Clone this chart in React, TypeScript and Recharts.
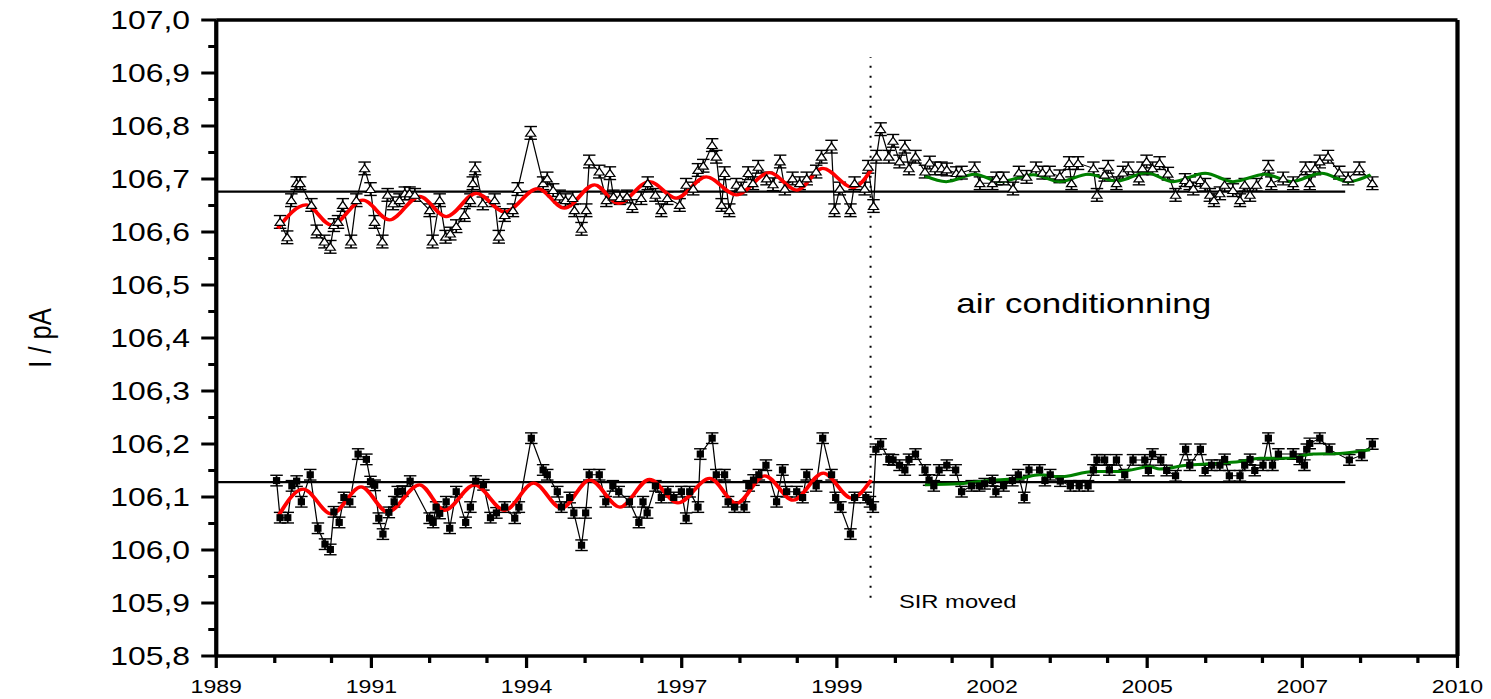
import React from "react";
import {
  LineChart,
  Line,
  XAxis,
  YAxis,
  ErrorBar,
  ReferenceLine,
  ReferenceDot,
} from "recharts";

// the source picture is stretched sideways, so the chart is drawn narrower and scaled
const STRETCH = 1.25;
const CHART_W = 1193;
const CHART_H = 699;
const FONT = "Arial, 'Liberation Sans', Helvetica, sans-serif";

// axis ticks
const xMajorTicks = [1989, 1991.625, 1994.25, 1996.875, 1999.5, 2002.125, 2004.75, 2007.375, 2010];
const xTickLabels = ["1989", "1991", "1994", "1997", "1999", "2002", "2005", "2007", "2010"];
const xMinorTicks = [
  1989.99, 1990.95, 1992.61, 1993.58, 1995.24, 1996.2, 1997.86, 1998.83,
  2000.49, 2001.45, 2003.11, 2004.08, 2005.74, 2006.7, 2008.36, 2009.33,
];
const yMajorTicks = [105.8, 105.9, 106.0, 106.1, 106.2, 106.3, 106.4, 106.5, 106.6, 106.7, 106.8, 106.9, 107.0];
const yTickLabels = ["105,8", "105,9", "106,0", "106,1", "106,2", "106,3", "106,4", "106,5", "106,6", "106,7", "106,8", "106,9", "107,0"];
const yMinorTicks = [105.85, 105.95, 106.05, 106.15, 106.25, 106.35, 106.45, 106.55, 106.65, 106.75, 106.85, 106.95];

// measurements [year, I / pA]
const upperSeries: [number, number][] = [
  [1990.08, 106.619], [1990.2, 106.59], [1990.27, 106.66], [1990.36, 106.692], [1990.42, 106.692],
  [1990.61, 106.651], [1990.7, 106.601], [1990.83, 106.582], [1990.93, 106.572], [1990.99, 106.613],
  [1991.06, 106.619], [1991.14, 106.651], [1991.28, 106.582], [1991.37, 106.66], [1991.51, 106.72],
  [1991.61, 106.681], [1991.68, 106.619], [1991.81, 106.582], [1991.9, 106.67], [1991.99, 106.654],
  [1992.1, 106.66], [1992.19, 106.673], [1992.27, 106.673], [1992.36, 106.67], [1992.61, 106.641],
  [1992.66, 106.582], [1992.78, 106.66], [1992.88, 106.591], [1992.96, 106.597], [1993.06, 106.611],
  [1993.2, 106.632], [1993.3, 106.66], [1993.34, 106.692], [1993.38, 106.72], [1993.51, 106.654],
  [1993.71, 106.66], [1993.78, 106.591], [1993.88, 106.632], [1994.02, 106.641], [1994.1, 106.681],
  [1994.32, 106.787], [1994.53, 106.692], [1994.6, 106.701], [1994.7, 106.679], [1994.81, 106.667],
  [1994.91, 106.66], [1995.03, 106.664], [1995.06, 106.641], [1995.18, 106.606], [1995.26, 106.641],
  [1995.31, 106.733], [1995.48, 106.714], [1995.6, 106.66], [1995.66, 106.711], [1995.72, 106.667],
  [1995.83, 106.664], [1995.95, 106.667], [1996.04, 106.649], [1996.19, 106.664], [1996.3, 106.692],
  [1996.43, 106.67], [1996.53, 106.641], [1996.63, 106.664], [1996.84, 106.651], [1996.95, 106.689],
  [1997.07, 106.682], [1997.15, 106.717], [1997.24, 106.725], [1997.39, 106.764], [1997.46, 106.742],
  [1997.55, 106.651], [1997.6, 106.711], [1997.68, 106.641], [1997.8, 106.689], [1997.88, 106.682],
  [1998.0, 106.711], [1998.08, 106.692], [1998.17, 106.723], [1998.31, 106.701], [1998.42, 106.69],
  [1998.54, 106.733], [1998.62, 106.682], [1998.75, 106.701], [1998.87, 106.692], [1998.99, 106.701],
  [1999.15, 106.714], [1999.24, 106.742], [1999.41, 106.761], [1999.46, 106.641], [1999.55, 106.682],
  [1999.73, 106.641], [1999.8, 106.692], [1999.97, 106.682], [2000.03, 106.723], [2000.12, 106.649],
  [2000.17, 106.742], [2000.24, 106.794], [2000.38, 106.742], [2000.45, 106.772], [2000.56, 106.733],
  [2000.65, 106.761], [2000.72, 106.72], [2000.83, 106.742], [2000.99, 106.714], [2001.07, 106.731],
  [2001.16, 106.72], [2001.27, 106.72], [2001.36, 106.718], [2001.52, 106.711], [2001.61, 106.712],
  [2001.83, 106.72], [2001.92, 106.692], [2002.13, 106.692], [2002.2, 106.701], [2002.32, 106.701],
  [2002.48, 106.682], [2002.58, 106.712], [2002.71, 106.704], [2002.87, 106.72], [2002.98, 106.712],
  [2003.1, 106.712], [2003.27, 106.705], [2003.43, 106.73], [2003.47, 106.692], [2003.58, 106.73],
  [2003.84, 106.72], [2003.9, 106.67], [2004.03, 106.708], [2004.09, 106.723], [2004.23, 106.692],
  [2004.34, 106.712], [2004.43, 106.72], [2004.61, 106.701], [2004.67, 106.72], [2004.74, 106.733],
  [2004.84, 106.72], [2004.96, 106.73], [2005.1, 106.71], [2005.23, 106.67], [2005.39, 106.698],
  [2005.47, 106.692], [2005.53, 106.682], [2005.65, 106.698], [2005.73, 106.689], [2005.81, 106.67],
  [2005.88, 106.66], [2005.98, 106.673], [2006.06, 106.689], [2006.2, 106.679], [2006.32, 106.66],
  [2006.4, 106.689], [2006.49, 106.67], [2006.6, 106.689], [2006.8, 106.723], [2006.85, 106.692],
  [2007.05, 106.701], [2007.22, 106.692], [2007.43, 106.72], [2007.5, 106.692], [2007.59, 106.72],
  [2007.67, 106.733], [2007.81, 106.742], [2008.0, 106.712], [2008.15, 106.701], [2008.34, 106.72],
  [2008.56, 106.692],
];

const lowerSeries: [number, number][] = [
  [1990.02, 106.131], [1990.08, 106.061], [1990.21, 106.061], [1990.28, 106.121], [1990.36, 106.13],
  [1990.44, 106.091], [1990.59, 106.142], [1990.72, 106.041], [1990.84, 106.011], [1990.93, 106.001],
  [1990.99, 106.072], [1991.08, 106.052], [1991.16, 106.099], [1991.26, 106.091], [1991.4, 106.181],
  [1991.54, 106.171], [1991.61, 106.129], [1991.68, 106.122], [1991.75, 106.06], [1991.82, 106.03],
  [1991.92, 106.071], [1992.01, 106.091], [1992.07, 106.11], [1992.15, 106.111], [1992.28, 106.13],
  [1992.61, 106.06], [1992.67, 106.052], [1992.72, 106.081], [1992.78, 106.069], [1992.89, 106.091],
  [1992.95, 106.041], [1993.06, 106.11], [1993.22, 106.052], [1993.3, 106.081], [1993.39, 106.13],
  [1993.52, 106.123], [1993.64, 106.061], [1993.74, 106.07], [1993.88, 106.081], [1994.05, 106.06],
  [1994.12, 106.081], [1994.33, 106.211], [1994.53, 106.151], [1994.6, 106.142], [1994.77, 106.11],
  [1994.84, 106.081], [1994.98, 106.099], [1995.05, 106.07], [1995.18, 106.009], [1995.25, 106.07],
  [1995.31, 106.142], [1995.48, 106.142], [1995.59, 106.091], [1995.71, 106.121], [1995.81, 106.11],
  [1995.99, 106.091], [1996.15, 106.052], [1996.22, 106.091], [1996.29, 106.07], [1996.43, 106.121],
  [1996.53, 106.099], [1996.64, 106.11], [1996.74, 106.099], [1996.87, 106.11], [1996.95, 106.06],
  [1997.01, 106.11], [1997.15, 106.081], [1997.19, 106.181], [1997.39, 106.211], [1997.46, 106.142],
  [1997.6, 106.142], [1997.66, 106.091], [1997.77, 106.081], [1997.93, 106.081], [1998.01, 106.121],
  [1998.09, 106.132], [1998.18, 106.142], [1998.3, 106.16], [1998.48, 106.091], [1998.58, 106.151],
  [1998.65, 106.11], [1998.82, 106.11], [1998.92, 106.099], [1998.99, 106.142], [1999.15, 106.121],
  [1999.26, 106.211], [1999.41, 106.142], [1999.48, 106.099], [1999.56, 106.081], [1999.73, 106.03],
  [1999.8, 106.099], [1999.99, 106.099], [2000.06, 106.091], [2000.11, 106.081], [2000.16, 106.19],
  [2000.24, 106.2], [2000.38, 106.171], [2000.45, 106.17], [2000.56, 106.16], [2000.65, 106.151],
  [2000.72, 106.171], [2000.83, 106.181], [2000.99, 106.151], [2001.06, 106.132], [2001.14, 106.121],
  [2001.23, 106.151], [2001.36, 106.16], [2001.51, 106.151], [2001.61, 106.11], [2001.78, 106.121],
  [2001.91, 106.121], [2002.0, 106.125], [2002.13, 106.131], [2002.19, 106.11], [2002.32, 106.121],
  [2002.47, 106.131], [2002.57, 106.142], [2002.67, 106.099], [2002.75, 106.151], [2002.93, 106.151],
  [2003.02, 106.131], [2003.11, 106.142], [2003.28, 106.13], [2003.45, 106.121], [2003.6, 106.121],
  [2003.75, 106.121], [2003.84, 106.151], [2003.9, 106.17], [2004.03, 106.17], [2004.11, 106.151],
  [2004.23, 106.17], [2004.37, 106.142], [2004.51, 106.17], [2004.71, 106.17], [2004.77, 106.15],
  [2004.84, 106.181], [2004.98, 106.17], [2005.08, 106.15], [2005.23, 106.14], [2005.4, 106.19],
  [2005.47, 106.16], [2005.65, 106.19], [2005.73, 106.15], [2005.84, 106.16], [2005.98, 106.16],
  [2006.06, 106.171], [2006.14, 106.14], [2006.32, 106.14], [2006.4, 106.16], [2006.49, 106.171],
  [2006.57, 106.15], [2006.71, 106.16], [2006.8, 106.211], [2006.87, 106.16], [2006.97, 106.181],
  [2007.22, 106.181], [2007.33, 106.171], [2007.41, 106.16], [2007.45, 106.19], [2007.5, 106.201],
  [2007.67, 106.211], [2007.83, 106.19], [2008.17, 106.17], [2008.38, 106.179], [2008.56, 106.2],
];

const upperErr = 0.012;
const lowerErr = 0.01;

// fitted curves, read at their turning points
const upperFitBefore: [number, number][] = [
  [1990.04, 106.607], [1990.52, 106.651], [1990.95, 106.613], [1991.48, 106.66], [1991.93, 106.623],
  [1992.44, 106.667], [1992.89, 106.629], [1993.4, 106.673], [1993.88, 106.638], [1994.44, 106.682],
  [1994.89, 106.645], [1995.4, 106.689], [1995.8, 106.654], [1996.33, 106.695], [1996.78, 106.664],
  [1997.29, 106.704], [1997.8, 106.67], [1998.36, 106.712], [1998.82, 106.679], [1999.26, 106.72],
  [1999.77, 106.684], [2000.08, 106.717],
];
const lowerFitBefore: [number, number][] = [
  [1990.06, 106.066], [1990.47, 106.115], [1990.95, 106.068], [1991.45, 106.119], [1991.9, 106.072],
  [1992.44, 106.123], [1992.86, 106.075], [1993.37, 106.123], [1993.88, 106.075], [1994.37, 106.126],
  [1994.84, 106.079], [1995.32, 106.132], [1995.83, 106.081], [1996.33, 106.133], [1996.81, 106.089],
  [1997.35, 106.135], [1997.8, 106.088], [1998.28, 106.14], [1998.76, 106.094], [1999.27, 106.145],
  [1999.75, 106.098], [2000.08, 106.132],
];
const upperFitAfter: [number, number][] = [
  [2000.99, 106.706], [2001.35, 106.695], [2001.83, 106.709], [2002.26, 106.695], [2002.82, 106.708],
  [2003.27, 106.695], [2003.75, 106.709], [2004.23, 106.696], [2004.74, 106.712], [2005.19, 106.695],
  [2005.73, 106.711], [2006.2, 106.695], [2006.74, 106.709], [2007.19, 106.695], [2007.7, 106.711],
  [2008.15, 106.695], [2008.53, 106.708],
];
const lowerFitAfter: [number, number][] = [
  [2000.99, 106.123], [2001.58, 106.125], [2002.14, 106.132], [2002.59, 106.135], [2002.93, 106.142],
  [2003.27, 106.138], [2003.84, 106.148], [2004.29, 106.148], [2004.8, 106.157], [2004.96, 106.153],
  [2005.42, 106.16], [2005.87, 106.163], [2006.32, 106.167], [2006.66, 106.173], [2007.11, 106.173],
  [2007.56, 106.181], [2008.01, 106.182], [2008.52, 106.189],
];

// mean levels, drawn from the start of the axis to their end year
const meanLevels = [106.676, 106.128];
const meanSpan = [1989, 2008.1];

// the SIR move, marked by a dotted line
const sirMovedYear = 2000.07;
const sirMarkSpan = [105.91, 106.93];

const toPoints = (s: [number, number][], e: number) => s.map(([x, y]) => ({ x, y, e }));
const toCurve = (s: [number, number][]) => s.map(([x, y]) => ({ x, y }));

const upperData = toPoints(upperSeries, upperErr);
const lowerData = toPoints(lowerSeries, lowerErr);
const meanUpper = meanSpan.map((x) => ({ x, y: meanLevels[0] }));
const meanLower = meanSpan.map((x) => ({ x, y: meanLevels[1] }));

const xAllTicks = [...xMajorTicks, ...xMinorTicks].sort((a, b) => a - b);
const yAllTicks = [...yMajorTicks, ...yMinorTicks].sort((a, b) => a - b);
const findTick = (list: number[], v: number) => list.findIndex((t) => Math.abs(t - v) < 1e-6);

function BottomTick({ x, y, payload }: any) {
  const i = findTick(xMajorTicks, payload.value);
  return (
    <g>
      <line x1={x} x2={x} y1={y} y2={y + (i >= 0 ? 12 : 7)} stroke="#000" strokeWidth={2.6} />
      {i >= 0 && (
        <text x={x} y={y + 37} textAnchor="middle" fontSize={18.5} fontFamily={FONT} fill="#000">
          {xTickLabels[i]}
        </text>
      )}
    </g>
  );
}

function TopTick({ x, y, payload }: any) {
  const i = findTick(xMajorTicks, payload.value);
  return <line x1={x} x2={x} y1={y} y2={y + (i >= 0 ? 12 : 7)} stroke="#000" strokeWidth={2.6} />;
}

function LeftTick({ x, y, payload }: any) {
  const i = findTick(yMajorTicks, payload.value);
  return (
    <g>
      <line x1={x - (i >= 0 ? 12 : 6.4)} x2={x} y1={y} y2={y} stroke="#000" strokeWidth={3} />
      {i >= 0 && (
        <text x={x - 21} y={y} textAnchor="end" dominantBaseline="central" fontSize={25.5} fontFamily={FONT} fill="#000">
          {yTickLabels[i]}
        </text>
      )}
    </g>
  );
}

function RightTick({ x, y, payload }: any) {
  const i = findTick(yMajorTicks, payload.value);
  return <line x1={x - (i >= 0 ? 12 : 5.6)} x2={x} y1={y} y2={y} stroke="#000" strokeWidth={3} />;
}

const renderTriangle = (p: any) => (
  <path
    key={`tri-${p.index}`}
    d={`M${p.cx - 4},${p.cy + 3.4}L${p.cx + 4},${p.cy + 3.4}L${p.cx},${p.cy - 3.8}Z`}
    fill="#fff"
    stroke="#000"
    strokeWidth={1.1}
  />
);

const renderSquare = (p: any) => (
  <rect key={`sq-${p.index}`} x={p.cx - 2.9} y={p.cy - 3.5} width={5.8} height={7} fill="#000" />
);

const axisLine = { stroke: "#000", strokeWidth: 3.4 };

export default function App() {
  return (
    <div
      style={{
        position: "absolute",
        left: 0,
        top: 0,
        width: CHART_W,
        height: CHART_H,
        transform: `scaleX(${STRETCH})`,
        transformOrigin: "0 0",
        background: "#fff",
      }}
    >
      <LineChart width={CHART_W} height={CHART_H} margin={{ top: 19, right: 26, bottom: 0, left: 0 }}>
        <XAxis
          xAxisId="b"
          dataKey="x"
          type="number"
          domain={[1989, 2010]}
          ticks={xAllTicks}
          interval={0}
          height={43}
          tickLine={false}
          tickSize={0}
          tickMargin={0}
          tick={<BottomTick />}
          axisLine={axisLine}
        />
        <XAxis
          xAxisId="t"
          orientation="top"
          dataKey="x"
          type="number"
          domain={[1989, 2010]}
          ticks={xAllTicks}
          interval={0}
          height={1}
          tickLine={false}
          tickSize={0}
          tickMargin={0}
          tick={<TopTick />}
          axisLine={axisLine}
        />
        <YAxis
          yAxisId="l"
          type="number"
          domain={[105.8, 107.0]}
          ticks={yAllTicks}
          interval={0}
          width={173}
          tickLine={false}
          tickSize={0}
          tickMargin={0}
          tick={<LeftTick />}
          axisLine={axisLine}
          label={{
            content: (p: any) => {
              const vb = p.viewBox || { y: 20, height: 636 };
              return (
                <text
                  transform={`translate(32, ${vb.y + vb.height / 2}) rotate(-90)`}
                  textAnchor="middle"
                  dominantBaseline="central"
                  fontSize={25.5}
                  fontFamily={FONT}
                  fill="#000"
                >
                  I / pA
                </text>
              );
            },
          }}
        />
        <YAxis
          yAxisId="r"
          orientation="right"
          type="number"
          domain={[105.8, 107.0]}
          ticks={yAllTicks}
          interval={0}
          width={1}
          tickLine={false}
          tickSize={0}
          tickMargin={0}
          tick={<RightTick />}
          axisLine={axisLine}
        />

        <Line
          xAxisId="b"
          yAxisId="l"
          data={upperData}
          dataKey="y"
          stroke="#000"
          strokeWidth={1}
          dot={renderTriangle}
          activeDot={false}
          isAnimationActive={false}
        >
          <ErrorBar dataKey="e" width={5} stroke="#000" strokeWidth={1.4} />
        </Line>
        <Line
          xAxisId="b"
          yAxisId="l"
          data={lowerData}
          dataKey="y"
          stroke="#000"
          strokeWidth={1}
          dot={renderSquare}
          activeDot={false}
          isAnimationActive={false}
        >
          <ErrorBar dataKey="e" width={5} stroke="#000" strokeWidth={1.4} />
        </Line>

        <Line xAxisId="b" yAxisId="l" data={meanUpper} dataKey="y" stroke="#000" strokeWidth={2.3} dot={false} activeDot={false} isAnimationActive={false} />
        <Line xAxisId="b" yAxisId="l" data={meanLower} dataKey="y" stroke="#000" strokeWidth={2.1} dot={false} activeDot={false} isAnimationActive={false} />

        <Line xAxisId="b" yAxisId="l" data={toCurve(upperFitBefore)} dataKey="y" type="monotone" stroke="#ff0000" strokeWidth={3.3} dot={false} activeDot={false} isAnimationActive={false} />
        <Line xAxisId="b" yAxisId="l" data={toCurve(lowerFitBefore)} dataKey="y" type="monotone" stroke="#ff0000" strokeWidth={3.3} dot={false} activeDot={false} isAnimationActive={false} />
        <Line xAxisId="b" yAxisId="l" data={toCurve(upperFitAfter)} dataKey="y" type="monotone" stroke="#008000" strokeWidth={3} dot={false} activeDot={false} isAnimationActive={false} />
        <Line xAxisId="b" yAxisId="l" data={toCurve(lowerFitAfter)} dataKey="y" type="monotone" stroke="#008000" strokeWidth={3} dot={false} activeDot={false} isAnimationActive={false} />

        <ReferenceLine
          xAxisId="b"
          yAxisId="l"
          segment={[
            { x: sirMovedYear, y: sirMarkSpan[0] },
            { x: sirMovedYear, y: sirMarkSpan[1] },
          ]}
          stroke="#000"
          strokeWidth={1.6}
          strokeDasharray="2 8"
        />
        <ReferenceDot
          xAxisId="b"
          yAxisId="l"
          x={2001.52}
          y={106.466}
          r={0}
          fill="none"
          stroke="none"
          label={{ value: "air conditionning", position: "right", offset: 0, fontSize: 28, fill: "#000", fontFamily: FONT }}
        />
        <ReferenceDot
          xAxisId="b"
          yAxisId="l"
          x={2000.55}
          y={105.904}
          r={0}
          fill="none"
          stroke="none"
          label={{ value: "SIR moved", position: "right", offset: 0, fontSize: 19, fill: "#000", fontFamily: FONT }}
        />
      </LineChart>
    </div>
  );
}
